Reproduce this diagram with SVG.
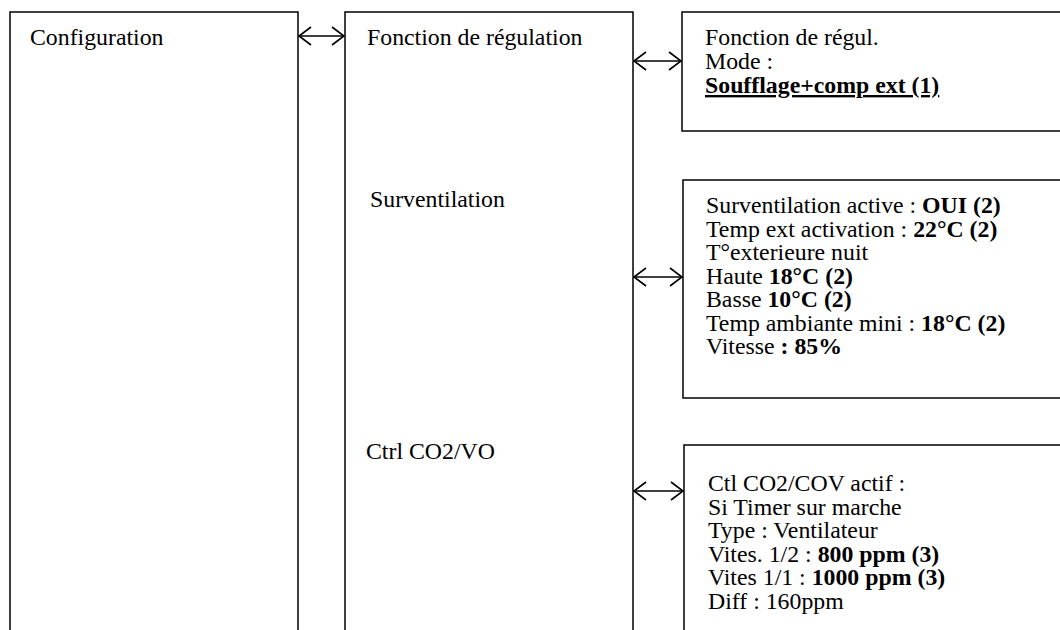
<svg xmlns="http://www.w3.org/2000/svg" width="1060" height="630" viewBox="0 0 1060 630">
<style>
.box{fill:none;stroke:#000;stroke-width:1.5}
text{font-family:"Liberation Serif","Times New Roman",serif;font-size:23.8px;fill:#000}
.b{font-weight:bold}
.u{text-decoration:underline}
.c{fill:none;stroke:#000;stroke-width:1.3}
</style>
<defs>
<marker id="ah" markerUnits="userSpaceOnUse" markerWidth="14" markerHeight="20" refX="13" refY="10" orient="auto-start-reverse" viewBox="0 0 14 20">
<path d="M1,1 L13,10 L1,19" fill="none" stroke="#000" stroke-width="1.6"/>
</marker>
</defs>
<rect width="1060" height="630" fill="#fff"/>
<g id="configuration">
<path class="box" d="M10,630 V12 H298 V630"/>
<text x="30" y="45">Configuration</text>
</g>
<g id="fonction-regulation">
<path class="box" d="M345,630 V12 H633 V630"/>
<text x="367" y="45">Fonction de régulation</text>
<text x="370" y="207">Surventilation</text>
<text x="366" y="459">Ctrl CO2/VO</text>
</g>
<g id="mode">
<rect class="box" x="682" y="12" width="400" height="119"/>
<text x="705" y="45">Fonction de régul.</text>
<text x="705" y="69">Mode :</text>
<text x="705" y="93" class="b u">Soufflage+comp ext (1)</text>
</g>
<g id="surventilation">
<rect class="box" x="683" y="180" width="400" height="218"/>
<text x="706" y="213">Surventilation active : <tspan class="b">OUI (2)</tspan></text>
<text x="706" y="236.5">Temp ext activation : <tspan class="b">22°C (2)</tspan></text>
<text x="706" y="260">T°exterieure nuit</text>
<text x="706" y="283.5">Haute <tspan class="b">18°C (2)</tspan></text>
<text x="706" y="307">Basse <tspan class="b">10°C (2)</tspan></text>
<text x="706" y="330.5">Temp ambiante mini : <tspan class="b">18°C (2)</tspan></text>
<text x="706" y="354">Vitesse<tspan class="b"> : 85%</tspan></text>
</g>
<g id="ctrl-co2">
<path class="box" d="M1070,445 H684 V630"/>
<text x="708" y="491">Ctl CO2/COV actif :</text>
<text x="708" y="514.5">Si Timer sur marche</text>
<text x="708" y="538">Type : Ventilateur</text>
<text x="708" y="561.5">Vites. 1/2 : <tspan class="b">800 ppm (3)</tspan></text>
<text x="708" y="585">Vites 1/1 : <tspan class="b">1000 ppm (3)</tspan></text>
<text x="708" y="608.5">Diff : 160ppm</text>
</g>
<g id="connectors">
<line class="c" x1="299" y1="36" x2="344" y2="36" marker-start="url(#ah)" marker-end="url(#ah)"/>
<line class="c" x1="634" y1="61" x2="681" y2="61" marker-start="url(#ah)" marker-end="url(#ah)"/>
<line class="c" x1="634" y1="277" x2="682" y2="277" marker-start="url(#ah)" marker-end="url(#ah)"/>
<line class="c" x1="634" y1="491" x2="683" y2="491" marker-start="url(#ah)" marker-end="url(#ah)"/>
</g>
</svg>
